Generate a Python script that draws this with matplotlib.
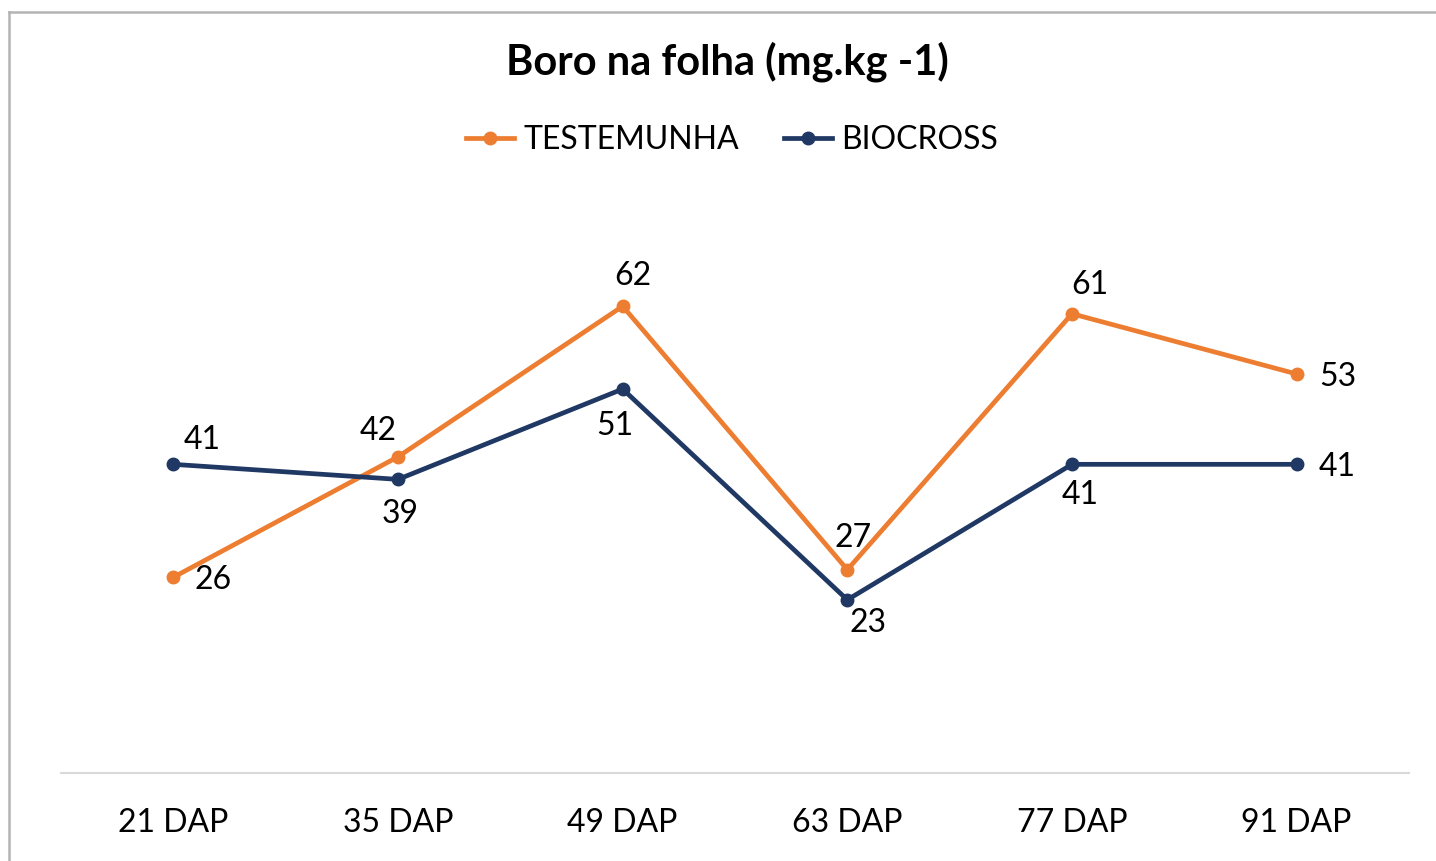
import matplotlib.pyplot as plt
from matplotlib.lines import Line2D

plt.rcParams['font.family'] = ['Lato', 'DejaVu Sans']

categories = ['21 DAP', '35 DAP', '49 DAP', '63 DAP', '77 DAP', '91 DAP']
testemunha = [26, 42, 62, 27, 61, 53]
biocross = [41, 39, 51, 23, 41, 41]

# label offsets in pixels (dx, dy)
off_test = [(40, -3), (-20, 26), (10, 30), (6, 32), (18, 29), (41, -3)]
off_bio = [(29, 24), (2, -35), (-8, -37), (21, -23), (8, -31), (41, -3)]

orange = '#ED7D31'
navy = '#203864'

fig = plt.figure(figsize=(14.36, 8.61), dpi=100)
ax = fig.add_axes([61 / 1436, 1 - 773 / 861, 1348 / 1436, (773 - 246) / 861])

x = list(range(len(categories)))
ax.plot(x, testemunha, color=orange, lw=3.4, marker='o', ms=9, zorder=3)
ax.plot(x, biocross, color=navy, lw=3.4, marker='o', ms=9, zorder=3)

for xi, v, (dx, dy) in zip(x, testemunha, off_test):
    ax.annotate(str(v), (xi, v), xytext=(dx, dy), textcoords='offset pixels',
                ha='center', va='center', fontsize=23, color='black')
for xi, v, (dx, dy) in zip(x, biocross, off_bio):
    ax.annotate(str(v), (xi, v), xytext=(dx, dy), textcoords='offset pixels',
                ha='center', va='center', fontsize=23, color='black')

ax.set_xlim(-0.5, len(categories) - 0.5)
ax.set_ylim(0, 70)
ax.set_xticks(x)
ax.set_xticklabels(categories, fontsize=23)
ax.tick_params(axis='x', length=0, pad=25)
ax.set_yticks([])
for s in ['top', 'right', 'left']:
    ax.spines[s].set_visible(False)
ax.spines['bottom'].set_color('#d9d9d9')
ax.spines['bottom'].set_linewidth(1.5)

fig.text(727 / 1436, 1 - 62 / 861, 'Boro na folha (mg.kg -1)', ha='center', va='center',
         fontsize=30, fontweight='bold')

handles = [Line2D([], [], color=orange, lw=3.4, marker='o', ms=9),
           Line2D([], [], color=navy, lw=3.4, marker='o', ms=9)]
fig.legend(handles, ['TESTEMUNHA', 'BIOCROSS'], loc='center', ncol=2,
           bbox_to_anchor=(732 / 1436, 1 - 140 / 861), frameon=False, fontsize=23,
           handlelength=1.5, handletextpad=0.3, columnspacing=1.4)

# chart area border (top and left visible)
fig.add_artist(Line2D([9 / 1436, 9 / 1436], [0, 1 - 12 / 861], transform=fig.transFigure,
                      color='#b4b4b4', lw=1.8))
fig.add_artist(Line2D([9 / 1436, 1], [1 - 12 / 861, 1 - 12 / 861], transform=fig.transFigure,
                      color='#b4b4b4', lw=1.8))

fig.savefig('out.png', dpi=100)
